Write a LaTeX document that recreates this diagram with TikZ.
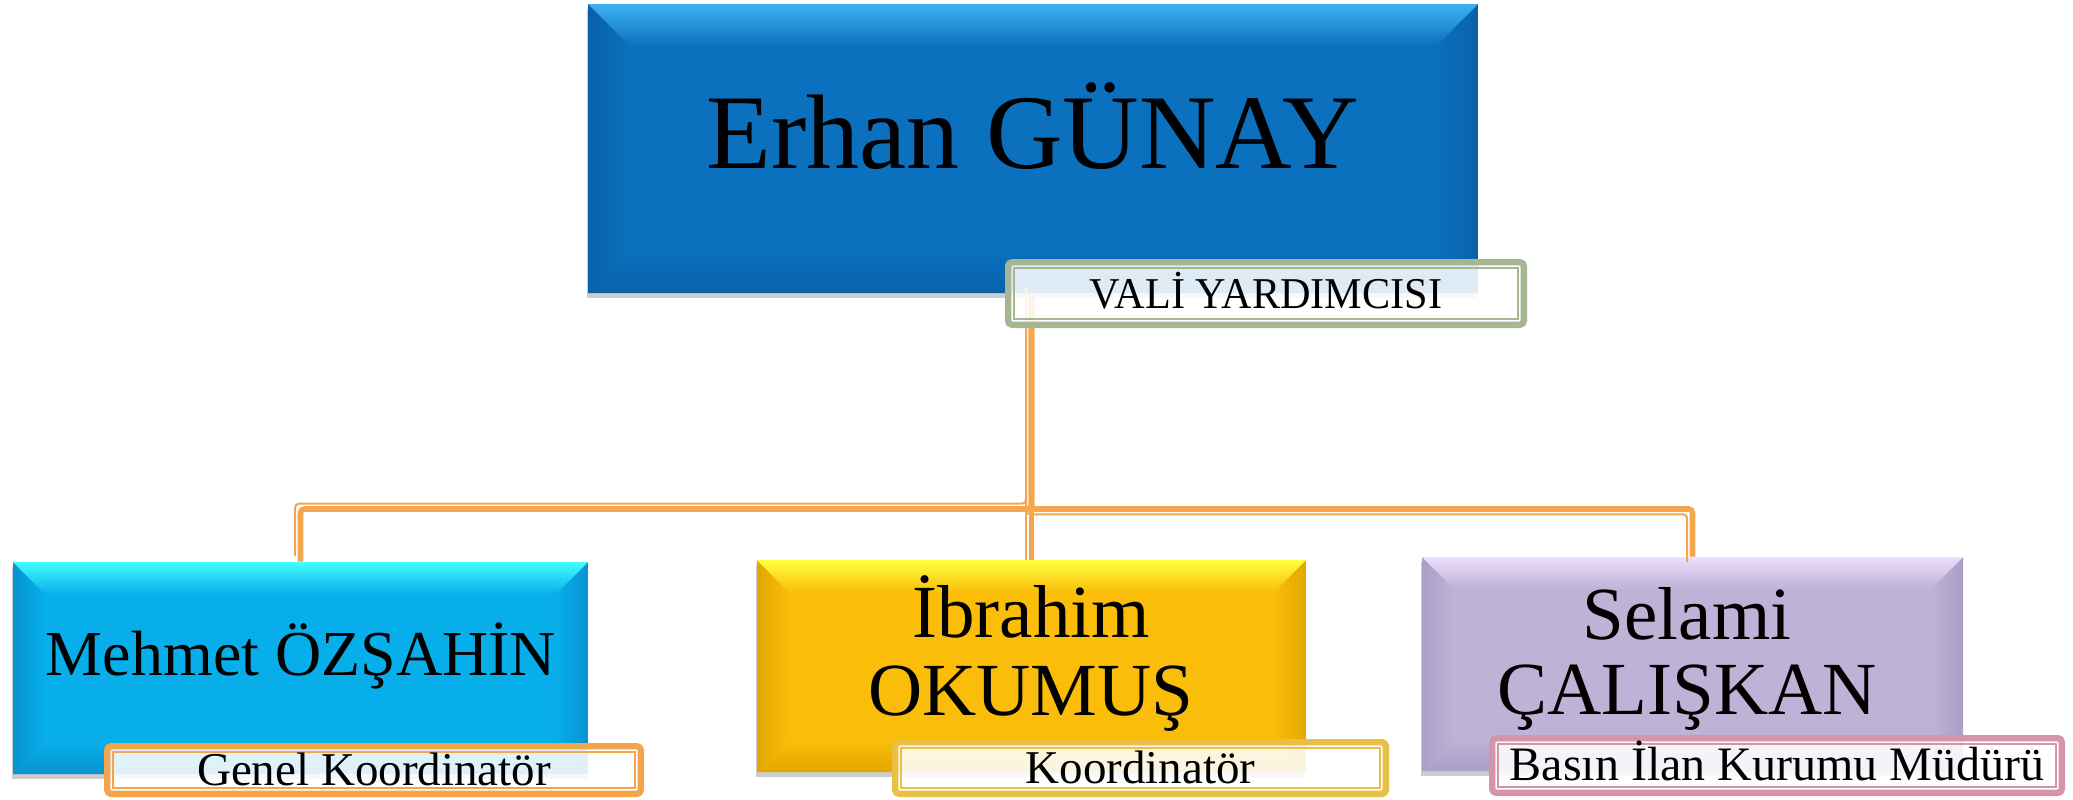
\documentclass[tikz,border=0pt]{standalone}
\usepackage{fontspec}
\setmainfont{Liberation Serif}
\usepackage{graphicx}
\usetikzlibrary{shadows}
\definecolor{aBase}{RGB}{11,112,189}
\definecolor{aLight}{RGB}{62,178,240}
\definecolor{aDark}{RGB}{9,98,168}
\definecolor{bBase}{RGB}{8,174,234}
\definecolor{bLight}{RGB}{66,255,255}
\definecolor{bDark}{RGB}{6,148,208}
\definecolor{cBase}{RGB}{250,190,10}
\definecolor{cLight}{RGB}{255,255,64}
\definecolor{cDark}{RGB}{226,166,0}
\definecolor{dBase}{RGB}{190,178,214}
\definecolor{dLight}{RGB}{236,222,252}
\definecolor{dDark}{RGB}{172,158,198}
\definecolor{eCol}{RGB}{166,181,146}
\definecolor{fCol}{RGB}{242,165,75}
\definecolor{gCol}{RGB}{233,191,72}
\definecolor{hCol}{RGB}{213,149,168}
\definecolor{connCol}{RGB}{243,166,77}
\tikzset{
  bevelbox/.style n args={4}{rectangle, inner sep=0pt, fill=#2, draw=none,
    drop shadow={shadow xshift=-0.4pt, shadow yshift=-2.5pt, opacity=0.2, fill=black},
    path picture={
      \coordinate (pNW) at (path picture bounding box.north west);
      \coordinate (pNE) at (path picture bounding box.north east);
      \coordinate (pSW) at (path picture bounding box.south west);
      \coordinate (pSE) at (path picture bounding box.south east);
      \shade[left color=#3, right color=#2] (pNW) -- ([shift={(#4,-#4)}]pNW) -- ([shift={(#4,#4)}]pSW) -- (pSW) -- cycle;
      \shade[left color=#2, right color=#3] (pNE) -- ([shift={(-#4,-#4)}]pNE) -- ([shift={(-#4,#4)}]pSE) -- (pSE) -- cycle;
      \shade[top color=#2, bottom color=#3] (pSW) -- ([shift={(#4,#4)}]pSW) -- ([shift={(-#4,#4)}]pSE) -- (pSE) -- cycle;
      \shade[top color=#1, bottom color=#2] (pNW) -- (pNE) -- ([shift={(-#4,-#4)}]pNE) -- ([shift={(#4,-#4)}]pNW) -- cycle;
    }},
  labelbox/.style={rectangle, draw=#1, line width=3.2pt, rounded corners=2pt,
    fill=white, fill opacity=0.87, text opacity=1, inner sep=0pt,
    text height=15pt, text depth=0pt,
    path picture={
      \draw[#1, line width=0.85pt, sharp corners]
        ([shift={(2.9pt,-2.9pt)}]path picture bounding box.north west) rectangle
        ([shift={(-2.9pt,2.9pt)}]path picture bounding box.south east);
    }},
  nametext/.style={inner sep=0pt, anchor=base, text=black},
  connthick/.style={draw=connCol, line width=2.8pt, rounded corners=2pt},
  connthin/.style={draw=connCol, line width=1pt, rounded corners=2pt}
}
\begin{document}
\begin{tikzpicture}[x=0.5pt,y=-0.5pt]
\useasboundingbox (0,0) rectangle (2073,799);
% boxes
\node[bevelbox={aLight}{aBase}{aDark}{21pt}, minimum width=445pt, minimum height=144.5pt] (A) at (1033,148.5) {};
\node[bevelbox={bLight}{bBase}{bDark}{16pt}, minimum width=287.5pt, minimum height=106pt] (B) at (300.5,668) {};
\node[bevelbox={cLight}{cBase}{cDark}{16pt}, minimum width=274.5pt, minimum height=106pt] (C) at (1031.5,666) {};
\node[bevelbox={dLight}{dBase}{dDark}{16pt}, minimum width=270.5pt, minimum height=107pt] (D) at (1692.5,664) {};
% names
\node[nametext, font=\fontsize{53pt}{60pt}\selectfont] (At) at (1033,168) {Erhan GÜNAY};
\node[nametext, font=\fontsize{32pt}{38pt}\selectfont] (Bt) at (301,675) {Mehmet ÖZŞAHİN};
\node[nametext, font=\fontsize{37.5pt}{40pt}\selectfont] (Ct1) at (1031,637) {İbrahim};
\node[nametext, font=\fontsize{37.5pt}{40pt}\selectfont] (Ct2) at (1031,715) {OKUMUŞ};
\node[nametext, font=\fontsize{37.5pt}{40pt}\selectfont] (Dt1) at (1687,639) {Selami};
\node[nametext, font=\fontsize{37.5pt}{40pt}\selectfont] (Dt2) at (1687,714) {ÇALIŞKAN};
% connectors
\coordinate (bar) at (0,509);
\draw[connthick] (A.south -| C.north) -- (C.north |- bar) -- (B.north |- bar) -- (B.north);
\draw[connthick] (A.south -| C.north) -- (C.north |- bar) -- (D.north |- bar) -- (D.north);
\draw[connthick] (A.south -| C.north) -- (C.north);
\begin{scope}[transform canvas={shift={(-2.7pt,2.7pt)}}]
\draw[connthin] (A.south -| C.north) -- (C.north |- bar) -- (B.north |- bar) -- (B.north);
\end{scope}
\begin{scope}[transform canvas={shift={(-2.7pt,-2.7pt)}}]
\draw[connthin] (A.south -| C.north) -- (C.north |- bar) -- (D.north |- bar) -- (D.north);
\end{scope}
\begin{scope}[transform canvas={shift={(-2.7pt,0pt)}}]
\draw[connthin] (A.south -| C.north) -- (C.north);
\end{scope}
% labels
\node[labelbox=eCol, minimum width=257.8pt, minimum height=31.3pt, font=\fontsize{22pt}{26pt}\selectfont] (E) at (1266,293.5) {\scalebox{0.96}[1]{VALİ YARDIMCISI}};
\node[labelbox=fCol, minimum width=266.8pt, minimum height=23.8pt, font=\fontsize{23.5pt}{26pt}\selectfont] (F) at (374,770) {Genel Koordinatör};
\node[labelbox=gCol, minimum width=245.3pt, minimum height=25.8pt, font=\fontsize{23.5pt}{26pt}\selectfont] (G) at (1140.5,768) {Koordinatör};
\node[labelbox=hCol, minimum width=284.8pt, minimum height=27.3pt, font=\fontsize{24pt}{26pt}\selectfont] (H) at (1777,765.5) {Basın İlan Kurumu Müdürü};
\end{tikzpicture}
\end{document}
